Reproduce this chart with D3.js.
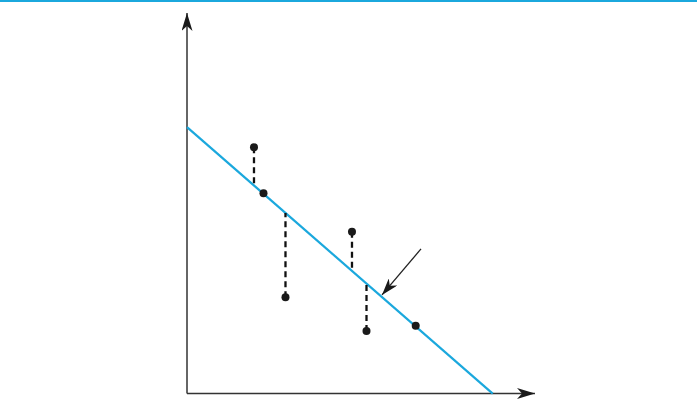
<!DOCTYPE html>
<html>
<head>
<meta charset="utf-8">
<script src="https://cdn.jsdelivr.net/npm/d3@7"></script>
<style>
  html, body { margin: 0; padding: 0; background: #fff; }
  svg { display: block; }
</style>
</head>
<body>
<svg id="chart" width="697" height="401"></svg>
<script>
// Data (arbitrary units)
const pointX = [1.925, 2.198, 2.830, 4.741, 5.158, 6.572];
const pointY = [6.47, 5.26, 2.53, 4.25, 1.64, 1.78];
const residualIdx = [0, 2, 3, 4];       // points with dashed residual lines
const lineIntercept = 7.0;
const lineSlope = -0.797;
const lineXEnd = 8.785;
const arrowFrom = [6.724, 3.80];
const arrowTo = [5.603, 2.59];

const svg = d3.select("#chart");
const W = 697, H = 401;

const x = d3.scaleLinear().domain([0, 10]).range([187, 535]);
const y = d3.scaleLinear().domain([0, 10]).range([393.5, 13]);

const cyan = "#1ba8dd";
const axisColor = "#333";

// top rule
svg.append("line").attr("x1", 0).attr("x2", W).attr("y1", 1).attr("y2", 1)
  .attr("stroke", cyan).attr("stroke-width", 2);

const defs = svg.append("defs");
defs.append("marker").attr("id", "axisHead")
  .attr("viewBox", "0 0 18 11").attr("refX", 18).attr("refY", 5.5)
  .attr("markerWidth", 18).attr("markerHeight", 11)
  .attr("markerUnits", "userSpaceOnUse").attr("orient", "auto")
  .append("path").attr("d", "M0,0 L18,5.5 L0,11 L5,5.5 Z").attr("fill", "#1a1a1a");
defs.append("marker").attr("id", "ptrHead")
  .attr("viewBox", "0 0 17 11").attr("refX", 17).attr("refY", 5.5)
  .attr("markerWidth", 17).attr("markerHeight", 11)
  .attr("markerUnits", "userSpaceOnUse").attr("orient", "auto")
  .append("path").attr("d", "M0,0 L17,5.5 L0,11 L5,5.5 Z").attr("fill", "#1a1a1a");

// axes
svg.append("line")
  .attr("x1", x(0)).attr("y1", y(0)).attr("x2", x(0)).attr("y2", y(10))
  .attr("stroke", axisColor).attr("stroke-width", 1.5).attr("marker-end", "url(#axisHead)");
svg.append("line")
  .attr("x1", x(0)).attr("y1", y(0)).attr("x2", x(10)).attr("y2", y(0))
  .attr("stroke", axisColor).attr("stroke-width", 1.5).attr("marker-end", "url(#axisHead)");

// regression line
svg.append("line")
  .attr("x1", x(0)).attr("y1", y(lineIntercept))
  .attr("x2", x(lineXEnd)).attr("y2", y(lineIntercept + lineSlope * lineXEnd))
  .attr("stroke", cyan).attr("stroke-width", 2.2);

// residual dashed lines
svg.selectAll(".res").data(residualIdx).join("line")
  .attr("class", "res")
  .attr("x1", i => x(pointX[i])).attr("x2", i => x(pointX[i]))
  .attr("y1", i => y(pointY[i]))
  .attr("y2", i => y(lineIntercept + lineSlope * pointX[i]))
  .attr("stroke", "#111").attr("stroke-width", 2.3)
  .attr("stroke-dasharray", "6,4");

// points
svg.selectAll(".pt").data(pointX).join("circle")
  .attr("class", "pt")
  .attr("cx", (d) => x(d)).attr("cy", (d, i) => y(pointY[i]))
  .attr("r", 4).attr("fill", "#1a1a1a");

// pointer arrow
svg.append("line")
  .attr("x1", x(arrowFrom[0])).attr("y1", y(arrowFrom[1]))
  .attr("x2", x(arrowTo[0])).attr("y2", y(arrowTo[1]))
  .attr("stroke", "#222").attr("stroke-width", 1.3).attr("marker-end", "url(#ptrHead)");
</script>
</body>
</html>
